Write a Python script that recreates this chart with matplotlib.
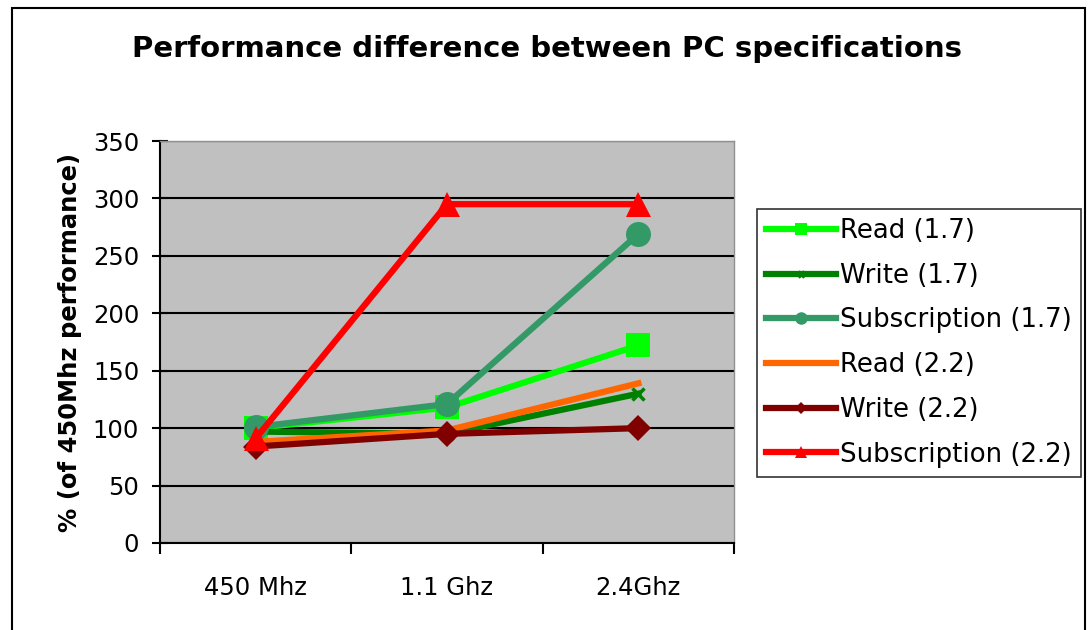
import matplotlib.pyplot as plt
from matplotlib.patches import Rectangle

plt.rcParams['font.family'] = ['DejaVu Sans']

# data
categories = ['450 Mhz', '1.1 Ghz', '2.4Ghz']
read_17 = [100, 118, 172]
write_17 = [97, 95, 130]
subs_17 = [101, 121, 269]
read_22 = [88, 98, 139]
write_22 = [84, 95, 100]
subs_22 = [91, 295, 295]

series = [
    ('Read (1.7)', read_17, '#00FF00', 's', 17),
    ('Write (1.7)', write_17, '#008000', 'x', 9),
    ('Subscription (1.7)', subs_17, '#339966', 'o', 18),
    ('Read (2.2)', read_22, '#FF6600', 'None', 0),
    ('Write (2.2)', write_22, '#800000', 'D', 13),
    ('Subscription (2.2)', subs_22, '#FF0000', '^', 18),
]

fig = plt.figure(figsize=(10.88, 6.30), dpi=100)
ax = fig.add_axes([160/1088, 87/630, 574/1088, 402/630])
ax.set_facecolor('#C0C0C0')

x = range(len(categories))
for name, vals, col, mk, ms in series:
    ax.plot(x, vals, color=col, lw=4.5, marker=mk, ms=ms, mew=2.5 if mk == 'x' else 0,
            mec=col, label=name, clip_on=False)

ax.set_xlim(-0.5, 2.5)
ax.set_ylim(0, 350)
ax.set_yticks(range(0, 351, 50))
ax.yaxis.grid(True, color='black', lw=1.5)
ax.set_axisbelow(True)
ax.set_xticks([0, 1, 2])
ax.set_xticklabels(categories)
ax.set_xticks([-0.5, 0.5, 1.5, 2.5], minor=True)
ax.tick_params(axis='x', which='major', length=0, pad=24, labelsize=17.5)
ax.tick_params(axis='x', which='minor', length=8, width=1.5, direction='out')
ax.tick_params(axis='y', length=12, width=1.5, direction='inout', labelsize=17.5, pad=9)
for s in ['top', 'right']:
    ax.spines[s].set_color('#909090')
    ax.spines[s].set_linewidth(1)
for s in ['left', 'bottom']:
    ax.spines[s].set_linewidth(1.5)
ax.set_ylabel('% (of 450Mhz performance)', fontsize=17.5, fontweight='bold', labelpad=8)

fig.text(0.503, 0.922, 'Performance difference between PC specifications',
         ha='center', va='center', fontsize=21, fontweight='bold')

leg = fig.legend(loc='upper left', bbox_to_anchor=(757/1088, 1 - 209/630),
                 fontsize=18.7, frameon=True, fancybox=False, edgecolor='black',
                 markerscale=0.5, handlelength=2.7, handletextpad=0.15,
                 labelspacing=0.72, borderpad=0.35, borderaxespad=0)
leg.get_frame().set_linewidth(1.2)

fig.patches.append(Rectangle((12/1088, -0.1), (1085 - 12)/1088, 1.1 - 8/630,
                             transform=fig.transFigure,
                             fill=False, edgecolor='black', lw=1.5))

fig.savefig('out.png', dpi=100)
